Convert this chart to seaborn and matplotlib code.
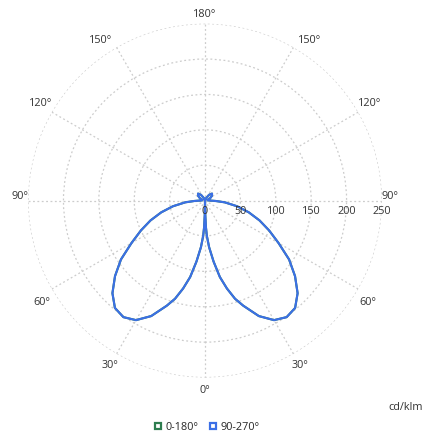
import matplotlib
matplotlib.use("Agg")
import matplotlib.pyplot as plt
from matplotlib.lines import Line2D
import numpy as np
import pandas as pd
import seaborn as sns

# photometric curve, symmetric luminaire: gamma angle (deg from nadir) -> cd/klm
GAMMA = [0, 1, 2, 3, 5, 8, 11, 14, 17, 20, 25, 30, 35, 40, 45, 50, 55, 60,
         65, 70, 75, 80, 85, 88, 90, 95, 105, 115, 125, 135, 145, 155, 165, 180]
INTENSITY = [0, 20, 38, 50, 66, 87, 110, 128, 145, 158, 180, 195, 201, 198, 185,
             166, 145, 120, 100, 82, 64, 46, 28, 15, 8, 4, 4, 8, 12, 14, 10, 4, 1, 0]

SERIES = ["0-180°", "90-270°"]
COLORS = ["#2e7d4f", "#3b6fe6"]

R_TICKS = [0, 50, 100, 150, 200, 250]
THETA_TICKS = [0, 30, 60, 90, 120, 150, 180]

# pixel offset of each angle label's centre from its point on the outer ring
# (right-hand side; left side is mirrored)
LABEL_OFFSETS = {0: (0, -12.5), 30: (6.5, -12), 60: (9.5, -13), 90: (8, 4.5),
                 120: (11.5, 9), 150: (16, 7), 180: (0, 9.5)}


def full_curve():
    g = np.array(GAMMA, dtype=float)
    i = np.array(INTENSITY, dtype=float)
    theta = np.concatenate([-g[::-1], g[1:]])
    r = np.concatenate([i[::-1], i[1:]])
    return pd.DataFrame({"theta": np.radians(theta), "r": r})


sns.set_theme(style="white")
plt.rcParams["font.family"] = ["Open Sans", "DejaVu Sans"]

fig = plt.figure(figsize=(4.25, 4.38), dpi=100)
ax = fig.add_axes([0.0659, 0.138, 0.833, 0.808], projection="polar")
ax.set_theta_zero_location("S")
ax.set_theta_direction(1)

df = full_curve()
for name, color in zip(SERIES, COLORS):
    sns.lineplot(data=df, x="theta", y="r", ax=ax, color=color, linewidth=1.5,
                 sort=False, estimator=None)

ax.set_ylim(0, 250)
ax.set_yticks(R_TICKS[1:])
ax.set_yticklabels([])
all_ticks = THETA_TICKS + [360 - t for t in THETA_TICKS[1:-1]]
ax.set_xticks(np.radians(all_ticks))
ax.set_xticklabels([])
ax.grid(True, color="#cccccc", linestyle=(0, (1.5, 2)), linewidth=0.9)
ax.spines["polar"].set_visible(False)
ax.set_xlabel("")
ax.set_ylabel("")

# angle labels around the outer ring, mirrored on both sides
for t in THETA_TICKS:
    dx, dy = LABEL_OFFSETS[t]
    sides = [1] if t in (0, 180) else [1, -1]
    for s in sides:
        ax.annotate(f"{t}°", xy=(np.radians(s * t), 250), xytext=(s * dx, dy),
                    textcoords="offset pixels", ha="center", va="center",
                    fontsize=7.8, color="#333333", annotation_clip=False)

for r in R_TICKS:
    ax.annotate(str(r), xy=(np.pi / 2, r), xytext=(0, -4), textcoords="offset points",
                ha="center", va="top", fontsize=7.8, color="#333333")

fig.text(0.995, 0.07, "cd/klm", ha="right", va="center", fontsize=7.8, color="#333333")

handles = [Line2D([], [], linestyle="none", marker="s", markersize=5,
                  markerfacecolor="white", markeredgecolor=c, markeredgewidth=1.6)
           for c in COLORS]
fig.legend(handles, SERIES, loc="center", bbox_to_anchor=(0.485, 0.025), ncol=2,
           frameon=False, fontsize=7.8, handletextpad=0.2, columnspacing=0.8,
           handlelength=1.0)

fig.savefig("out.png", dpi=100, facecolor="white")
